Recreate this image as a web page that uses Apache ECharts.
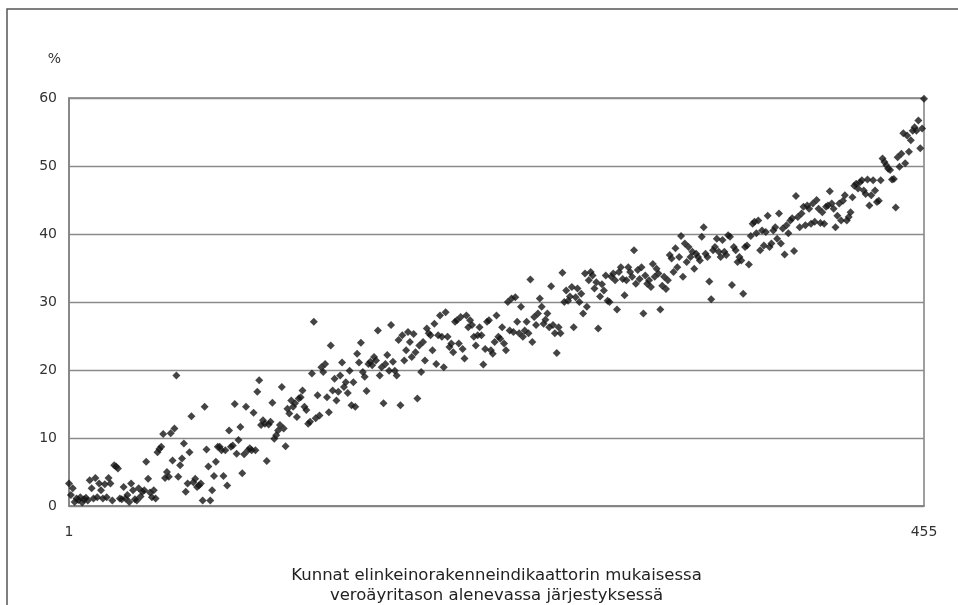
<!DOCTYPE html>
<html><head><meta charset="utf-8">
<script src="https://cdn.jsdelivr.net/npm/echarts@6/dist/echarts.min.js"></script>
<style>html,body{margin:0;padding:0;background:#fff}#c{width:958px;height:605px}</style>
</head><body><div id="c"></div>
<script>
// Values (%) in rank order 1..455
const rank001to050 = [3.3, 1.6, 2.6, 0.6, 1.1, 0.9, 1.3, 0.5, 1.0, 1.2,
  0.8, 3.8, 2.6, 1.1, 4.1, 1.3, 3.3, 2.3, 1.1, 3.2,
  1.3, 4.1, 3.3, 0.8, 6.0, 5.8, 5.5, 1.1, 1.0, 2.8,
  1.1, 1.6, 0.6, 3.3, 2.3, 1.0, 0.8, 2.6, 1.4, 2.1,
  2.3, 6.5, 4.0, 2.0, 1.3, 2.3, 1.1, 7.9, 8.4, 8.7];
const rank051to100 = [10.6, 4.1, 5.0, 4.3, 10.7, 6.7, 11.4, 19.2, 4.3, 6.0,
  7.0, 9.2, 2.1, 3.3, 7.9, 13.2, 3.5, 4.0, 2.8, 3.0,
  3.3, 0.8, 14.6, 8.3, 5.8, 0.8, 2.3, 4.4, 6.5, 8.7,
  8.7, 8.2, 4.4, 8.2, 3.0, 11.1, 8.7, 8.9, 15.0, 7.7,
  9.7, 11.6, 4.8, 7.6, 14.6, 8.2, 8.5, 8.2, 13.7, 8.2];
const rank101to149 = [16.8, 18.5, 11.9, 12.6, 12.1, 6.6, 12.0, 12.4, 15.2, 9.9,
  10.4, 11.1, 11.9, 17.5, 11.4, 8.8, 14.3, 13.6, 15.5, 14.6,
  15.1, 13.1, 15.8, 16.0, 17.0, 14.6, 14.1, 12.1, 12.4, 19.5,
  27.1, 12.9, 16.3, 13.3, 20.4, 19.7, 20.9, 16.0, 13.8, 23.6,
  17.0, 18.7, 15.5, 16.8, 19.2, 21.1, 17.5, 18.2, 16.6];
const rank150to200 = [19.9, 14.8, 18.2, 14.6, 22.4, 21.1, 24.0, 19.7, 19.0, 16.9,
  20.9, 21.2, 20.7, 21.9, 21.4, 25.8, 19.2, 20.4, 15.1, 20.9,
  22.2, 19.9, 26.6, 21.2, 19.9, 19.2, 24.4, 14.8, 25.1, 21.4,
  22.9, 25.6, 24.1, 21.9, 25.3, 22.6, 15.8, 23.6, 19.7, 24.1,
  21.4, 26.1, 25.4, 25.1, 22.9, 26.8, 20.9, 25.1, 28.0, 24.9,
  20.4];
const rank201to250 = [28.5, 24.9, 23.4, 23.9, 22.6, 27.1, 27.3, 23.9, 27.8, 23.1,
  21.7, 28.0, 26.3, 27.3, 26.6, 24.9, 23.6, 25.1, 26.3, 25.1,
  20.8, 23.1, 27.1, 27.3, 22.9, 22.4, 24.1, 28.0, 24.9, 24.6,
  26.3, 23.9, 22.9, 30.0, 25.8, 30.5, 25.6, 30.7, 27.1, 25.4,
  29.3, 24.9, 25.8, 27.1, 25.4, 33.3, 24.1, 27.8, 26.6, 28.3];
const rank251to300 = [30.5, 29.3, 26.8, 27.4, 28.3, 26.3, 32.3, 26.6, 25.4, 22.5,
  26.3, 25.4, 34.3, 30.0, 31.7, 30.2, 30.8, 32.2, 26.3, 30.7,
  32.0, 30.0, 31.2, 28.3, 34.2, 29.3, 33.2, 34.4, 33.9, 32.0,
  32.9, 26.1, 30.8, 32.6, 31.7, 33.9, 30.2, 30.0, 33.7, 34.2,
  33.2, 28.9, 34.4, 35.1, 33.4, 31.0, 33.2, 35.1, 34.4, 33.7];
const rank301to350 = [37.6, 32.7, 34.7, 33.4, 35.1, 28.3, 33.9, 32.7, 33.2, 32.2,
  35.6, 33.7, 34.9, 34.2, 28.9, 32.4, 33.7, 31.9, 33.2, 36.9,
  36.4, 34.4, 37.9, 35.1, 36.6, 39.7, 33.7, 38.6, 35.9, 38.1,
  36.6, 37.4, 34.9, 37.1, 36.6, 36.1, 39.6, 41.0, 37.1, 36.6,
  33.0, 30.4, 37.6, 38.1, 39.3, 37.4, 36.6, 39.1, 37.4, 36.9];
const rank351to400 = [39.8, 39.6, 32.5, 38.1, 37.6, 35.9, 36.6, 36.1, 31.2, 38.1,
  38.3, 35.5, 39.7, 41.5, 41.8, 40.1, 42.0, 37.6, 40.5, 38.3,
  40.3, 42.7, 38.1, 38.6, 40.5, 41.0, 39.3, 43.0, 38.6, 40.8,
  37.0, 41.3, 40.1, 42.0, 42.3, 37.5, 45.6, 42.5, 41.0, 43.0,
  44.0, 41.3, 44.2, 43.7, 41.5, 44.5, 41.8, 45.0, 43.7, 41.6];
const rank401to455 = [43.2, 41.5, 44.0, 44.2, 46.3, 44.5, 43.7, 41.0, 42.7, 44.5,
  42.0, 44.9, 45.7, 42.0, 42.5, 43.2, 45.4, 47.1, 47.4, 46.7,
  47.6, 47.9, 46.4, 45.9, 48.0, 44.2, 45.7, 47.9, 46.4, 44.7,
  44.9, 47.9, 51.1, 50.6, 50.1, 49.6, 49.4, 48.0, 48.1, 43.9,
  51.3, 49.9, 51.8, 54.8, 50.4, 54.5, 52.1, 53.8, 55.2, 55.7,
  55.2, 56.7, 52.6, 55.5, 59.9];

const xTickLabels = [1, 455];
const yTickMin = 0, yTickMax = 60, yTickStep = 10;
const yUnit = '%';
const xTitle = 'Kunnat elinkeinorakenneindikaattorin mukaisessa\nveroäyritason alenevassa järjestyksessä';

const values = [].concat(rank001to050, rank051to100, rank101to149, rank150to200,
  rank201to250, rank251to300, rank301to350, rank351to400, rank401to455);

const chart = echarts.init(document.getElementById('c'), null, {renderer: 'canvas'});
chart.setOption({
  animation: false,
  backgroundColor: '#ffffff',
  graphic: [{
    type: 'rect', silent: true, z: -10,
    shape: {x: 7, y: 9, width: 1000, height: 700},
    style: {fill: 'transparent', stroke: '#555555', lineWidth: 1.5}
  }],
  grid: {left: 69, right: 34, top: 98, bottom: 99, outerBoundsMode: 'none', containLabel: false,
    show: true, borderColor: '#808080', borderWidth: 1.5},
  xAxis: {
    type: 'value', min: xTickLabels[0], max: xTickLabels[1],
    axisLine: {show: true, lineStyle: {color: '#808080', width: 1.5}},
    axisTick: {show: false},
    splitLine: {show: false},
    axisLabel: {customValues: xTickLabels, margin: 19, fontFamily: 'DejaVu Sans', fontSize: 14, color: '#333'},
    name: xTitle, nameLocation: 'middle', nameGap: 60,
    nameTextStyle: {fontFamily: 'DejaVu Sans', fontSize: 16.5, lineHeight: 20, color: '#222'}
  },
  yAxis: {
    type: 'value', min: yTickMin, max: yTickMax, interval: yTickStep,
    axisLine: {show: true, lineStyle: {color: '#808080', width: 1.5}},
    axisTick: {show: false},
    splitLine: {show: true, lineStyle: {color: '#8a8a8a', width: 1.3}},
    axisLabel: {margin: 12, fontFamily: 'DejaVu Sans', fontSize: 14, color: '#333'},
    name: yUnit, nameLocation: 'end', nameGap: 32,
    nameTextStyle: {fontFamily: 'DejaVu Sans', fontSize: 14, color: '#333', align: 'right', padding: [0, 8, 0, 0]}
  },
  series: [{
    type: 'scatter', symbol: 'diamond', symbolSize: 8,
    itemStyle: {color: '#151515'},
    data: values.map((v, i) => [i + 1, v])
  }]
});
</script>
</body></html>
